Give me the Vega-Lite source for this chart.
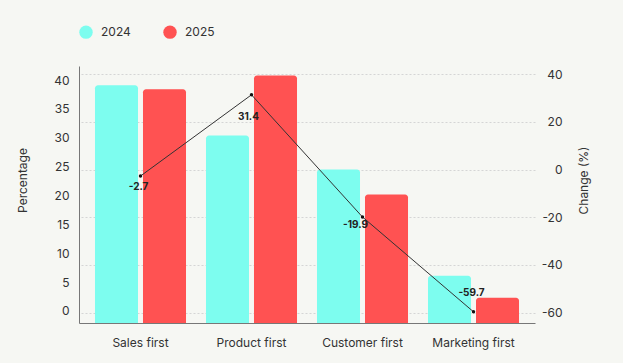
{
  "$schema": "https://vega.github.io/schema/vega-lite/v6.json",
  "width": 456,
  "height": 257,
  "autosize": {"type": "none"},
  "padding": {"left": 79, "top": 66, "right": 88, "bottom": 40},
  "background": "#F6F7F3",
  "config": {
    "font": "Inter",
    "view": {"stroke": null},
    "axis": {
      "labelFont": "Inter",
      "titleFont": "Inter",
      "labelColor": "#333333",
      "titleColor": "#333333",
      "titleFontWeight": "normal",
      "labelFontSize": 12,
      "titleFontSize": 12,
      "ticks": false
    }
  },
  "datasets": {
    "bars": [
      {"category": "Sales first", "year": "2024", "value": 39.1},
      {"category": "Sales first", "year": "2025", "value": 38.4},
      {"category": "Product first", "year": "2024", "value": 30.4},
      {"category": "Product first", "year": "2025", "value": 40.8},
      {"category": "Customer first", "year": "2024", "value": 24.5},
      {"category": "Customer first", "year": "2025", "value": 20.2},
      {"category": "Marketing first", "year": "2024", "value": 6.1},
      {"category": "Marketing first", "year": "2025", "value": 2.3}
    ],
    "change": [
      {"category": "Sales first", "change": -2.7},
      {"category": "Product first", "change": 31.4},
      {"category": "Customer first", "change": -19.9},
      {"category": "Marketing first", "change": -59.7}
    ]
  },
  "encoding": {
    "x": {
      "field": "category",
      "type": "nominal",
      "sort": ["Sales first", "Product first", "Customer first", "Marketing first"],
      "scale": {"paddingInner": 0.18, "paddingOuter": 0.144},
      "axis": {"title": null, "labelAngle": 0, "labelPadding": 14, "domainColor": "#777777", "grid": false}
    }
  },
  "layer": [
    {
      "data": {"name": "bars"},
      "mark": {"type": "bar", "cornerRadiusTopLeft": 3, "cornerRadiusTopRight": 3},
      "encoding": {
        "xOffset": {"field": "year", "type": "nominal", "scale": {"paddingInner": 0.104, "paddingOuter": 0}},
        "y": {
          "field": "value",
          "type": "quantitative",
          "scale": {"domain": [-2.08, 42.44], "nice": false, "zero": false},
          "axis": {
            "orient": "left",
            "values": [0, 5, 10, 15, 20, 25, 30, 35, 40],
            "grid": false,
            "domainColor": "#777777",
            "labelPadding": 10,
            "title": "Percentage",
            "titleAngle": 270,
            "titleX": -57,
            "titleY": 114,
            "titleBaseline": "middle"
          }
        },
        "y2": {"datum": -2.08},
        "color": {
          "field": "year",
          "type": "nominal",
          "scale": {"domain": ["2024", "2025"], "range": ["#7DFDEF", "#FF5252"]},
          "legend": {
            "orient": "none",
            "legendX": 0,
            "legendY": -41,
            "direction": "horizontal",
            "title": null,
            "symbolType": "circle",
            "symbolSize": 180,
            "symbolStrokeWidth": 0,
            "labelFontSize": 12,
            "labelOffset": 8,
            "columnPadding": 32,
            "labelColor": "#333333",
            "labelFont": "Inter"
          }
        }
      }
    },
    {
      "data": {"name": "change"},
      "encoding": {
        "y": {
          "field": "change",
          "type": "quantitative",
          "scale": {"domain": [-64.4, 43.5], "nice": false, "zero": false},
          "axis": {
            "orient": "right",
            "values": [-60, -40, -20, 0, 20, 40],
            "labelExpr": "'' + datum.value",
            "grid": true,
            "gridDash": [2, 2],
            "gridColor": "#D5D5D5",
            "gridWidth": 1,
            "domain": false,
            "labelAlign": "right",
            "labelPadding": 27,
            "title": "Change (%)",
            "titleAngle": 270,
            "titleX": 48.5,
            "titleY": 114,
            "titleBaseline": "middle"
          }
        }
      },
      "layer": [
        {"mark": {"type": "line", "stroke": "#333333", "strokeWidth": 1}},
        {"mark": {"type": "point", "filled": true, "color": "#111111", "size": 12, "opacity": 1}},
        {
          "transform": [{"filter": "datum.category === 'Sales first'"}],
          "mark": {"type": "text", "fontSize": 10, "fontWeight": "bold", "color": "#222222", "baseline": "middle", "dx": -2, "dy": 11},
          "encoding": {"text": {"field": "change", "type": "nominal"}}
        },
        {
          "transform": [{"filter": "datum.category === 'Product first'"}],
          "mark": {"type": "text", "fontSize": 10, "fontWeight": "bold", "color": "#222222", "baseline": "middle", "dx": -3, "dy": 22},
          "encoding": {"text": {"field": "change", "type": "nominal"}}
        },
        {
          "transform": [{"filter": "datum.category === 'Customer first'"}],
          "mark": {"type": "text", "fontSize": 10, "fontWeight": "bold", "color": "#222222", "baseline": "middle", "dx": -7, "dy": 8},
          "encoding": {"text": {"field": "change", "type": "nominal"}}
        },
        {
          "transform": [{"filter": "datum.category === 'Marketing first'"}],
          "mark": {"type": "text", "fontSize": 10, "fontWeight": "bold", "color": "#222222", "baseline": "middle", "dx": -2, "dy": -19},
          "encoding": {"text": {"field": "change", "type": "nominal"}}
        }
      ]
    }
  ],
  "resolve": {"scale": {"y": "independent"}}
}
